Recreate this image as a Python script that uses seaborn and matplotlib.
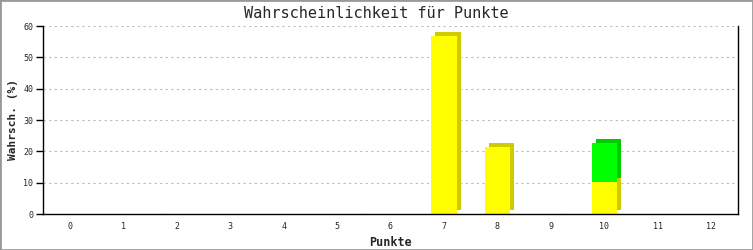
import matplotlib
matplotlib.use("Agg")
import matplotlib.pyplot as plt
import matplotlib.transforms as mtrans
import seaborn as sns
import pandas as pd

punkte = [str(i) for i in range(13)]
gelb = [0, 0, 0, 0, 0, 0, 0, 56.9, 21.3, 0, 10.3, 0, 0]
gruen = [0, 0, 0, 0, 0, 0, 0, 0, 0, 0, 12.5, 0, 0]
total = [g + h for g, h in zip(gelb, gruen)]

df = pd.DataFrame({"Punkte": punkte, "gelb": gelb, "total": total})

sns.set_theme(style="white")
plt.rcParams['font.family'] = ['DejaVu Sans Mono']

fig = plt.figure(figsize=(7.53, 2.5), dpi=100)
ax = fig.add_axes([43/753, 1-214/250, (738-43)/753, (214-26)/250])

W = 0.47
off = mtrans.ScaledTranslation(4/100, 4/100, fig.dpi_scale_trans)

def shadow(y, color):
    n0 = len(ax.patches)
    sns.barplot(data=df, x="Punkte", y=y, color=color, width=W, ax=ax,
                saturation=1, linewidth=0, zorder=2)
    for p in ax.patches[n0:]:
        p.set_transform(ax.transData + off)

shadow("total", "#00cc00")
shadow("gelb", "#cccc00")
sns.barplot(data=df, x="Punkte", y="total", color="#00ff00", width=W, ax=ax,
            saturation=1, linewidth=0, zorder=3)
sns.barplot(data=df, x="Punkte", y="gelb", color="#ffff00", width=W, ax=ax,
            saturation=1, linewidth=0, zorder=4)
for p in ax.patches:
    if p.get_height() <= 0:
        p.set_visible(False)

ax.set_xlim(-0.5, 12.5)
ax.set_ylim(0, 60)
ax.set_yticks(range(0, 61, 10))
ax.yaxis.grid(True, linestyle=(0, (2, 3)), color="#bbbbbb", linewidth=0.8, zorder=0)
ax.set_axisbelow(True)
for s in ["left", "bottom", "right"]:
    ax.spines[s].set_visible(True)
    ax.spines[s].set_color("black")
    ax.spines[s].set_linewidth(1)
    ax.spines[s].set_zorder(6)
ax.spines["top"].set_visible(False)
ax.tick_params(axis="y", which="both", left=True, length=5, width=1, color="black",
               labelsize=6, pad=2)
ax.tick_params(axis="x", bottom=False, length=0, labelsize=6, pad=6)
ax.set_xlabel("Punkte", fontsize=8.5, fontweight="bold", labelpad=3)
ax.set_ylabel("Wahrsch. (%)", fontsize=8, fontweight="bold", labelpad=4)
fig.suptitle("Wahrscheinlichkeit für Punkte", fontsize=11, fontweight="normal", y=0.975)

fig.patches.append(plt.Rectangle((0, 0), 1, 1, transform=fig.transFigure,
                                 fill=False, edgecolor="#999999", linewidth=2))
fig.savefig("out.png", dpi=100)
